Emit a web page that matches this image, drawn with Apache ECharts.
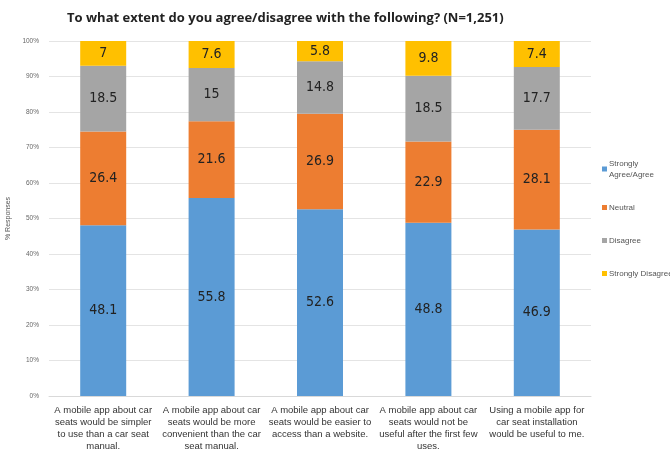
<!DOCTYPE html>
<html><head><meta charset="utf-8">
<script src="https://cdn.jsdelivr.net/npm/echarts@6/dist/echarts.min.js"></script>
<style>html,body{margin:0;padding:0;background:#fff}#c{width:670px;height:455px}</style>
</head><body><div id="c"></div>
<script>
var categories = [
  "A mobile app about car\nseats would be simpler\nto use than a car seat\nmanual.",
  "A mobile app about car\nseats would be more\nconvenient than the car\nseat manual.",
  "A mobile app about car\nseats would be easier to\naccess than a website.",
  "A mobile app about car\nseats would not be\nuseful after the first few\nuses.",
  "Using a mobile app for\ncar seat installation\nwould be useful to me."
];
var agree = [48.1, 55.8, 52.6, 48.8, 46.9];
var neutral = [26.4, 21.6, 26.9, 22.9, 28.1];
var disagree = [18.5, 15, 14.8, 18.5, 17.7];
var stronglyDisagree = [7, 7.6, 5.8, 9.8, 7.4];
var seriesNames = ["Strongly Agree/Agree", "Neutral", "Disagree", "Strongly Disagree"];
var legendNames = {"Strongly Agree/Agree": "Strongly\nAgree/Agree"};
var colors = ["#5b9bd5", "#ed7d31", "#a5a5a5", "#ffc000"];
var datas = [agree, neutral, disagree, stronglyDisagree];

var chart = echarts.init(document.getElementById('c'));
var labelFont = '"DejaVu Sans Condensed", "Liberation Sans Narrow", sans-serif';
chart.setOption({
  animation: false,
  color: colors,
  title: {
    text: "To what extent do you agree/disagree with the following? (N=1,251)",
    left: 62, top: 7,
    textStyle: {fontSize: 13, fontWeight: 'bold', color: '#222', fontFamily: '"Open Sans", sans-serif'}
  },
  legend: {
    orient: 'vertical', left: 597, top: 153, itemGap: 22,
    itemWidth: 5, itemHeight: 5, icon: 'rect',
    data: seriesNames,
    formatter: function (n) { return legendNames[n] || n; },
    textStyle: {fontSize: 8, color: '#555', padding: [0, 0, 0, -3], lineHeight: 11}
  },
  grid: {left: 49, right: 79, top: 41, bottom: 59, outerBoundsMode: 'none', containLabel: false},
  xAxis: {
    type: 'category', data: categories,
    axisTick: {show: false},
    axisLine: {lineStyle: {color: '#d9d9d9'}},
    axisLabel: {fontSize: 9.5, color: '#333', lineHeight: 12, interval: 0, margin: 8}
  },
  yAxis: {
    type: 'value', min: 0, max: 100, interval: 10,
    name: '% Responses', nameLocation: 'middle', nameGap: 36, nameRotate: 90,
    nameTextStyle: {fontSize: 7, color: '#555'},
    axisLabel: {formatter: '{value}%', fontSize: 6.5, color: '#666', margin: 10},
    splitLine: {lineStyle: {color: '#e4e4e4'}}
  },
  series: seriesNames.map(function (n, i) {
    return {
      name: n, type: 'bar', stack: 'total', barWidth: 46,
      data: datas[i],
      label: {show: true, position: 'inside', color: '#222', fontSize: 14, fontFamily: labelFont}
    };
  })
});
</script></body></html>
